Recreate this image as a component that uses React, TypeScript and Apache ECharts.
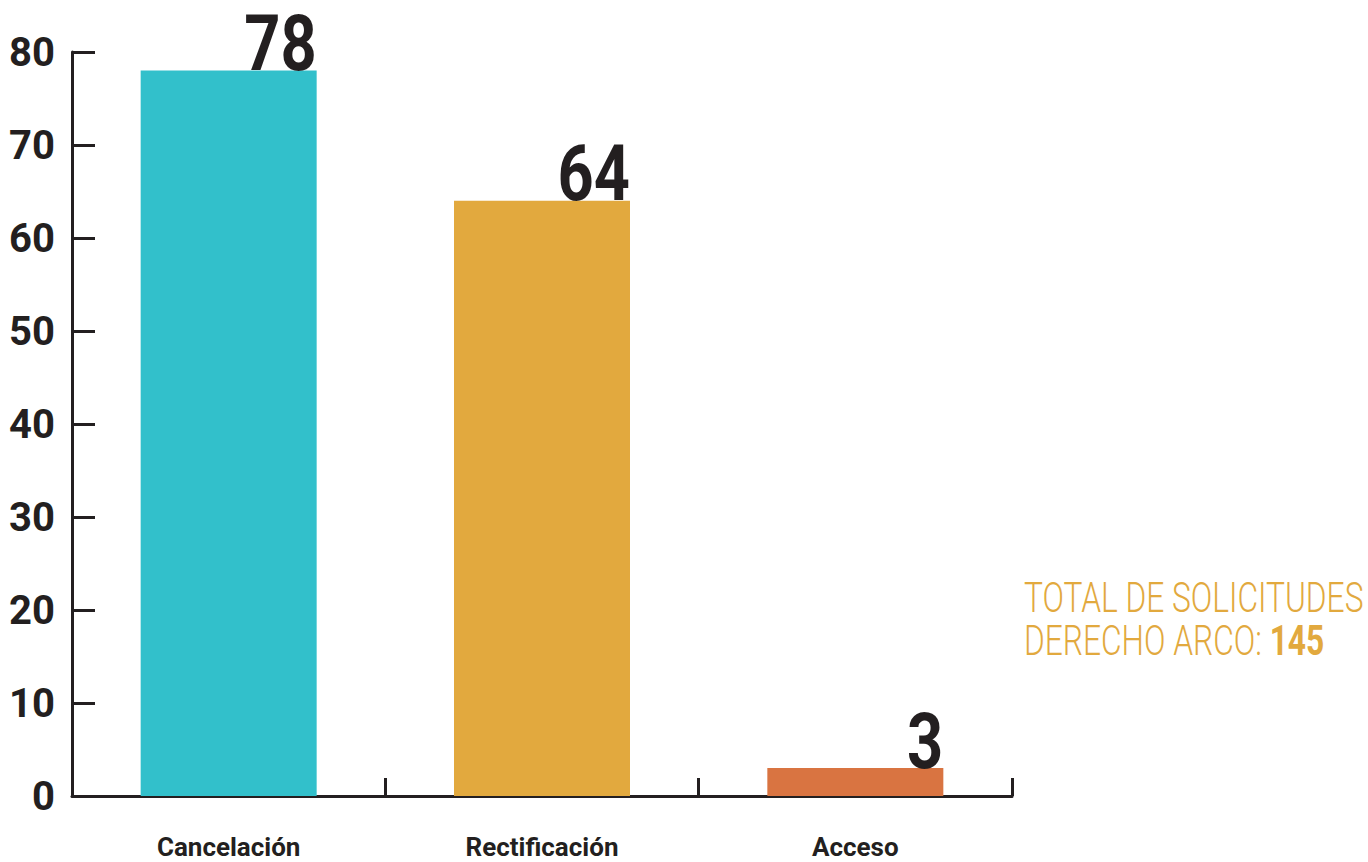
import React, { useEffect, useRef } from "react";
import * as echarts from "echarts";

const categories = ["Cancelación", "Rectificación", "Acceso"];
const values = [78, 64, 3];
const barColors = ["#32c0cb", "#e2a93e", "#d97441"];
const yTicks = [0, 10, 20, 30, 40, 50, 60, 70, 80];
const totalLine1 = "TOTAL DE SOLICITUDES";
const totalLine2 = "DERECHO ARCO: ";
const totalValue = 145;

const FAMILY = "Roboto, sans-serif";
const INK = "#231f20";
const GOLD = "#e2a93e";
const BAR_WIDTH = 176;
const VALUE_FONT = 77;

export default function App() {
  const ref = useRef<HTMLDivElement>(null);
  useEffect(() => {
    if (!ref.current) return;
    const chart = echarts.init(ref.current, undefined, { renderer: "svg" });
    chart.setOption({
      animation: false,
      grid: { left: 72, right: 356, top: 52, bottom: 66 },
      xAxis: {
        type: "category",
        data: categories,
        axisLine: { lineStyle: { color: INK, width: 3 } },
        axisTick: { show: true, inside: true, length: 18, lineStyle: { color: INK, width: 3 } },
        axisLabel: {
          margin: 38,
          color: INK,
          fontFamily: FAMILY,
          fontWeight: "bold",
          fontSize: 26,
        },
      },
      yAxis: {
        type: "value",
        min: yTicks[0],
        max: yTicks[yTicks.length - 1],
        interval: 10,
        axisLine: { show: true, lineStyle: { color: INK, width: 3 } },
        axisTick: { show: true, inside: true, length: 23, lineStyle: { color: INK, width: 3 } },
        splitLine: { show: false },
        axisLabel: {
          margin: 17,
          color: INK,
          fontFamily: FAMILY,
          fontWeight: "bold",
          fontSize: 40,
        },
      },
      series: [
        {
          type: "bar",
          barWidth: BAR_WIDTH,
          data: values.map((v, i) => ({ value: v, itemStyle: { color: barColors[i] } })),
        },
        {
          type: "custom",
          silent: true,
          z: 5,
          data: values.map((v, i) => [i, v]),
          renderItem: (params: any, api: any) => {
            const v = api.value(1);
            const pt = api.coord([api.value(0), v]);
            return {
              type: "text",
              x: pt[0] + BAR_WIDTH / 2,
              y: pt[1] - 0.36 * VALUE_FONT + 1,
              scaleX: 0.82,
              style: {
                text: String(v),
                align: "right",
                verticalAlign: "middle",
                fill: INK,
                font: `bold ${VALUE_FONT}px Roboto`,
              },
            };
          },
        },
      ],
      graphic: [
        {
          type: "text",
          left: 1024,
          top: 576,
          scaleX: 0.755,
          style: {
            text: totalLine1,
            fill: GOLD,
            font: "300 42px Roboto",
          },
        },
        {
          type: "text",
          left: 1024,
          top: 619,
          scaleX: 0.755,
          style: {
            text: "{a|" + totalLine2 + "}{b|" + totalValue + "}",
            fill: GOLD,
            rich: {
              a: { fontFamily: "Roboto", fontWeight: 300, fontSize: 42, fill: GOLD },
              b: { fontFamily: "Roboto", fontWeight: "bold", fontSize: 42, fill: GOLD },
            },
          },
        },
      ],
    });
    return () => chart.dispose();
  }, []);
  return <div ref={ref} style={{ width: 1368, height: 862, position: "absolute", left: 0, top: 0 }} />;
}
